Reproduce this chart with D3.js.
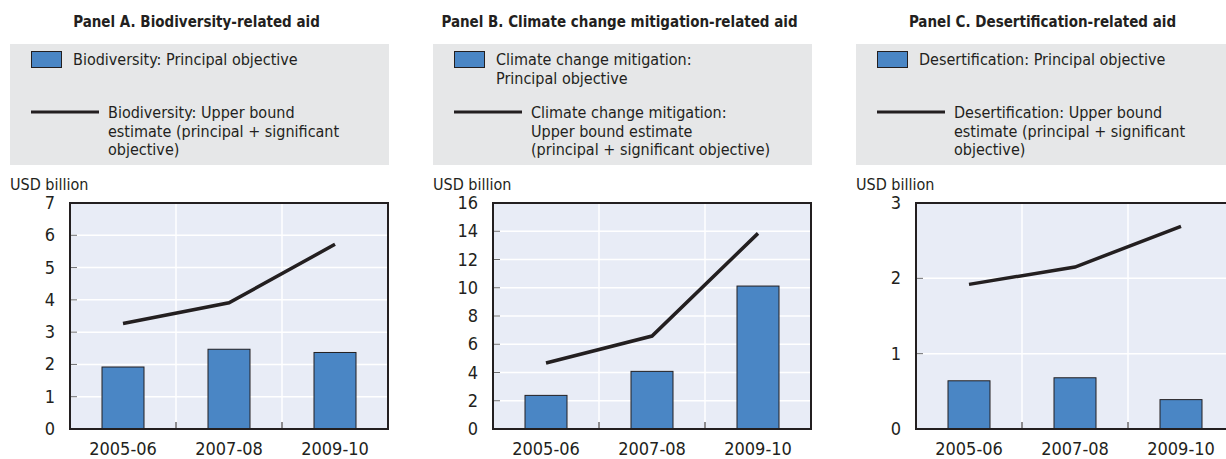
<!DOCTYPE html>
<meta charset="utf-8">
<title>Environment-related aid</title>
<body>
<script src="https://cdn.jsdelivr.net/npm/d3@7"></script>
<style>
html, body {
    margin: 0;
    background: #fff;
}
svg text {
    font-family: "Liberation Sans Narrow", "Arial Narrow", "DejaVu Sans Condensed", sans-serif;
    fill: #231f20;
}
</style>
<script>
var categories = ["2005-06", "2007-08", "2009-10"];

var biodivPrincipal = [1.92, 2.47, 2.37],
    biodivUpper = [3.27, 3.91, 5.72];

var climatePrincipal = [2.38, 4.08, 10.12],
    climateUpper = [4.67, 6.58, 13.85];

var desertPrincipal = [0.64, 0.68, 0.39],
    desertUpper = [1.92, 2.15, 2.69];

var panelTitles = [
    "Panel A. Biodiversity-related aid",
    "Panel B. Climate change mitigation-related aid",
    "Panel C. Desertification-related aid"
];
var barLabels = [
    ["Biodiversity: Principal objective"],
    ["Climate change mitigation:", "Principal objective"],
    ["Desertification: Principal objective"]
];
var lineLabels = [
    ["Biodiversity: Upper bound", "estimate (principal + significant", "objective)"],
    ["Climate change mitigation:", "Upper bound estimate", "(principal + significant objective)"],
    ["Desertification: Upper bound", "estimate (principal + significant", "objective)"]
];
var yTicks = [
    [0, 1, 2, 3, 4, 5, 6, 7],
    [0, 2, 4, 6, 8, 10, 12, 14, 16],
    [0, 1, 2, 3]
];

var panels = [
    { bars: biodivPrincipal, line: biodivUpper },
    { bars: climatePrincipal, line: climateUpper },
    { bars: desertPrincipal, line: desertUpper }
];

var width = 1226,
    height = 459,
    panelStep = 423,
    panelW = 379,
    plotLeft = 60,
    plotRight = 378,
    plotTop = 203,
    plotBottom = 429,
    ink = "#231f20";

var svg = d3.select("body").append("svg")
    .attr("width", width)
    .attr("height", height);

panels.forEach(function(p, i) {
    var g = svg.append("g").attr("transform", "translate(" + (10 + i * panelStep) + ",0)");

    g.append("text")
        .attr("x", panelW / 2 - 3)
        .attr("y", 27)
        .attr("text-anchor", "middle")
        .style("font-weight", "bold")
        .style("font-size", "15px")
        .text(panelTitles[i]);

    // legend
    g.append("rect")
        .attr("x", 0).attr("y", 44)
        .attr("width", panelW).attr("height", 121)
        .attr("fill", "#e6e7e8");

    g.append("rect")
        .attr("x", 21.5).attr("y", 51.5)
        .attr("width", 30).attr("height", 16)
        .attr("fill", "#4a86c5")
        .attr("stroke", ink)
        .attr("stroke-width", 1);

    g.append("text")
        .attr("x", 63)
        .attr("y", 65)
        .style("font-size", "16px")
        .selectAll("tspan")
        .data(barLabels[i])
        .enter().append("tspan")
        .attr("x", 63)
        .attr("dy", function(d, j) { return j ? 18.5 : 0; })
        .text(function(d) { return d; });

    g.append("line")
        .attr("x1", 21).attr("x2", 89)
        .attr("y1", 112).attr("y2", 112)
        .attr("stroke", ink)
        .attr("stroke-width", 3);

    g.append("text")
        .attr("x", 98)
        .attr("y", 118)
        .style("font-size", "16px")
        .selectAll("tspan")
        .data(lineLabels[i])
        .enter().append("tspan")
        .attr("x", 98)
        .attr("dy", function(d, j) { return j ? 18.5 : 0; })
        .text(function(d) { return d; });

    g.append("text")
        .attr("x", 0)
        .attr("y", 190)
        .style("font-size", "16px")
        .text("USD billion");

    // plot
    var ticks = yTicks[i];
    var x = d3.scaleBand()
        .domain(categories)
        .range([plotLeft, plotRight]);
    var y = d3.scaleLinear()
        .domain([0, ticks[ticks.length - 1]])
        .range([plotBottom, plotTop]);

    g.append("rect")
        .attr("x", plotLeft).attr("y", plotTop)
        .attr("width", plotRight - plotLeft).attr("height", plotBottom - plotTop)
        .attr("fill", "#e8ecf6");

    g.selectAll(".hgrid")
        .data(ticks.slice(1, -1))
        .enter().append("line")
        .attr("x1", plotLeft).attr("x2", plotRight)
        .attr("y1", function(d) { return y(d); })
        .attr("y2", function(d) { return y(d); })
        .attr("stroke", "#fff")
        .attr("stroke-width", 1.5);

    var bounds = categories.slice(1).map(function(c) { return x(c); });

    g.selectAll(".vgrid")
        .data(bounds)
        .enter().append("line")
        .attr("x1", function(d) { return d; })
        .attr("x2", function(d) { return d; })
        .attr("y1", plotTop).attr("y2", plotBottom)
        .attr("stroke", "#fff")
        .attr("stroke-width", 1.5);

    // small inner ticks
    g.selectAll(".ytick")
        .data(ticks.slice(1, -1))
        .enter().append("line")
        .attr("x1", plotLeft).attr("x2", plotLeft + 7)
        .attr("y1", function(d) { return y(d); })
        .attr("y2", function(d) { return y(d); })
        .attr("stroke", "#6d6e70")
        .attr("stroke-width", 1);

    g.selectAll(".xtick")
        .data(bounds)
        .enter().append("line")
        .attr("x1", function(d) { return d; })
        .attr("x2", function(d) { return d; })
        .attr("y1", plotBottom).attr("y2", plotBottom - 7)
        .attr("stroke", ink)
        .attr("stroke-width", 1);

    var bw = 42;
    g.selectAll(".bar")
        .data(p.bars)
        .enter().append("rect")
        .attr("x", function(d, j) { return x(categories[j]) + x.bandwidth() / 2 - bw / 2; })
        .attr("y", function(d) { return y(d); })
        .attr("width", bw)
        .attr("height", function(d) { return plotBottom - y(d); })
        .attr("fill", "#4a86c5")
        .attr("stroke", ink)
        .attr("stroke-width", 1);

    g.append("path")
        .datum(p.line)
        .attr("fill", "none")
        .attr("stroke", ink)
        .attr("stroke-width", 3.5)
        .attr("d", d3.line()
            .x(function(d, j) { return x(categories[j]) + x.bandwidth() / 2; })
            .y(function(d) { return y(d); }));

    g.append("rect")
        .attr("x", plotLeft).attr("y", plotTop)
        .attr("width", plotRight - plotLeft).attr("height", plotBottom - plotTop)
        .attr("fill", "none")
        .attr("stroke", ink)
        .attr("stroke-width", 2);

    g.selectAll(".ylab")
        .data(ticks)
        .enter().append("text")
        .attr("x", plotLeft - 15)
        .attr("y", function(d) { return y(d) + 6; })
        .attr("text-anchor", "end")
        .style("font-size", "18px")
        .text(function(d) { return d; });

    g.selectAll(".xlab")
        .data(categories)
        .enter().append("text")
        .attr("x", function(d) { return x(d) + x.bandwidth() / 2; })
        .attr("y", 455)
        .attr("text-anchor", "middle")
        .style("font-size", "18px")
        .text(function(d) { return d; });
});
</script>
